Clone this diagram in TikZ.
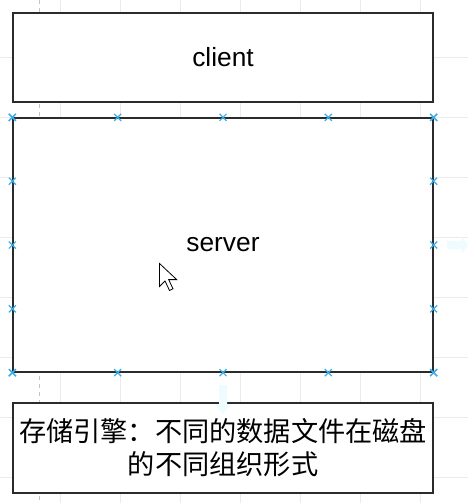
\documentclass[tikz,border=0pt]{standalone}
\usepackage{fontspec}
\setmainfont{Liberation Sans}
\newfontfamily\cjkfont{Noto Sans CJK SC}
\usetikzlibrary{calc}
\definecolor{gridgray}{HTML}{EBEBEB}
\definecolor{guidegray}{HTML}{C4C4C4}
\definecolor{boxline}{HTML}{2B2B2B}
\definecolor{markblue}{HTML}{3AAEEA}
\definecolor{hovercyan}{HTML}{EEFCFF}
\tikzset{
  boxnode/.style={draw=boxline, fill=white, line width=1.3pt, inner sep=0pt,
    minimum width=420pt, font=\fontsize{26.3}{30}\selectfont},
  cjkbox/.style={boxnode, align=center, font=\cjkfont\fontsize{27.2}{33}\selectfont},
  gridline/.style={draw=gridgray, line width=0.8pt},
  guideline/.style={draw=guidegray, line width=0.8pt, dash pattern=on 4pt off 4pt},
  markline/.style={draw=markblue, line width=1.2pt},
  cursorshape/.style={draw=black, fill=white, line width=0.8pt, line join=miter},
  hoverarrow/.style={fill=hovercyan, draw=none}
}
\newcommand{\xmark}[1]{\draw[markline] ($(#1)+(-3.5pt,-3.5pt)$) -- ($(#1)+(3.5pt,3.5pt)$) ($(#1)+(-3.5pt,3.5pt)$) -- ($(#1)+(3.5pt,-3.5pt)$);}
\begin{document}
\begin{tikzpicture}[x=1pt,y=-1pt]
\useasboundingbox[fill=white] (0,0) rectangle (468,503);
% grid
\foreach \gx in {60,120,...,420} \draw[gridline] (\gx,0) -- (\gx,503);
\foreach \gy in {57,117,...,477} \draw[gridline] (0,\gy) -- (468,\gy);
\draw[guideline] (39.5,0) -- (39.5,503);
% boxes
\node[boxnode, minimum height=89pt] (client) at (223,57.5) {client};
\node[boxnode, minimum height=254pt] (server) at (223,245) {server};
\node[cjkbox, minimum height=90pt] (engine) at (223,448) {存储引擎：不同的数据文件在磁盘\\的不同组织形式};
% hover arrows (faint)
\fill[hoverarrow] (219,385) -- (227,385) -- (227,404) -- (231,404) -- (223,414) -- (215,404) -- (219,404) -- cycle;
\fill[hoverarrow] (447,241) -- (462,241) -- (462,237) -- (468,245) -- (462,253) -- (462,249) -- (447,249) -- cycle;
% connection markers
\foreach \f in {0,0.25,0.5,0.75,1} {
  \coordinate (mt) at ($(server.north west)!\f!(server.north east)$);
  \coordinate (mb) at ($(server.south west)!\f!(server.south east)$);
  \coordinate (ml) at ($(server.north west)!\f!(server.south west)$);
  \coordinate (mr) at ($(server.north east)!\f!(server.south east)$);
  \xmark{mt}\xmark{mb}\xmark{ml}\xmark{mr}
}
% cursor
\coordinate (tip) at (159.5,263.5);
\draw[cursorshape] (tip) -- ++(0,23) -- ++(5.5,-5.5) -- ++(4.5,9.5) -- ++(3.5,-1.7) -- ++(-4.3,-9.2) -- ++(8,0) -- cycle;
\end{tikzpicture}
\end{document}
